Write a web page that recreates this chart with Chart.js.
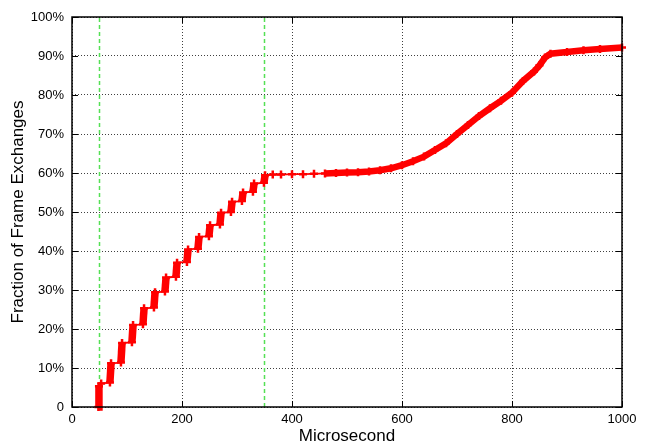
<!DOCTYPE html>
<html>
<head>
<meta charset="utf-8">
<script src="https://cdn.jsdelivr.net/npm/chart.js@4/dist/chart.umd.min.js"></script>
<style>
  html, body { margin: 0; padding: 0; background: #fff; }
  #wrap { width: 646px; height: 445px; }
</style>
</head>
<body>
<div id="wrap"><canvas id="grafico"></canvas></div>
<script>
// CDF (microseconds, percent)
const microsegundos = [
  48, 49, 53,
  69, 71, 89, 91, 109, 111, 129, 131, 149, 151, 169, 171, 189, 191,
  209, 211, 229, 231, 249, 251, 269, 271, 289, 291, 309, 311, 329, 331, 349, 351,
  365, 380, 400, 420, 440, 460, 480, 500, 520, 540, 560, 580, 600,
  620, 640, 660, 680, 700, 720, 740, 760, 780, 800, 820, 840, 850, 860,
  870, 900, 930, 960, 1000
]
const fraccion = [
  0, 5.3, 6.0,
  6.3, 11.2, 11.4, 16.4, 16.6, 21.0, 21.2, 25.3, 25.5, 29.4, 29.6, 33.2, 33.4, 37.0,
  37.2, 40.4, 40.6, 43.6, 43.8, 46.6, 46.8, 49.8, 50.0, 52.6, 52.8, 55.0, 55.2, 57.3, 57.5, 59.4,
  59.6, 59.6, 59.7, 59.7, 59.8, 59.9, 60.0, 60.1, 60.2, 60.4, 60.7, 61.2, 62.0,
  63.0, 64.2, 65.9, 67.6, 70.0, 72.3, 74.6, 76.6, 78.5, 80.6, 83.6, 86.0, 87.6, 89.6,
  90.6, 91.0, 91.5, 91.8, 92.2
]
const lineasVerdes = [50, 350]
const ticksX = [0, 200, 400, 600, 800, 1000]
const ticksY = [0, 10, 20, 30, 40, 50, 60, 70, 80, 90, 100]

const puntos = microsegundos.map((x, i) => ({ x: x, y: fraccion[i] }))

const datasets = [{
  data: puntos,
  borderColor: '#ff0000',
  backgroundColor: '#ff0000',
  pointStyle: 'cross',
  pointRadius: 4,
  pointBorderWidth: 2.5,
  pointBorderColor: '#ff0000',
  borderCapStyle: 'butt',
  borderWidth: 1.5,
  segment: {
    borderWidth: ctx => {
      const dx = Math.abs(ctx.p1.parsed.x - ctx.p0.parsed.x)
      if (dx <= 3) return 7.5
      if (ctx.p0.parsed.x >= 450) return 6.5
      return 1.8
    }
  },
  clip: false
}]

lineasVerdes.forEach(x => {
  datasets.push({
    data: [{ x: x, y: 0 }, { x: x, y: 100 }],
    borderColor: '#55e055',
    borderWidth: 1.5,
    borderDash: [4, 3],
    pointRadius: 0
  })
})

// marco negro y ticks hacia adentro, estilo gnuplot
const marcoGnuplot = {
  id: 'marcoGnuplot',
  afterDraw(chart) {
    const { ctx, chartArea } = chart
    const { left, right, top, bottom } = chartArea
    const sx = chart.scales.x
    const sy = chart.scales.y
    ctx.save()
    ctx.strokeStyle = '#000'
    ctx.lineWidth = 1
    ctx.beginPath()
    ticksX.forEach(v => {
      const px = Math.round(sx.getPixelForValue(v)) + 0.5
      ctx.moveTo(px, bottom); ctx.lineTo(px, bottom - 6)
      ctx.moveTo(px, top); ctx.lineTo(px, top + 6)
    })
    ticksY.forEach(v => {
      const py = Math.round(sy.getPixelForValue(v)) + 0.5
      ctx.moveTo(left, py); ctx.lineTo(left + 6, py)
      ctx.moveTo(right, py); ctx.lineTo(right - 6, py)
    })
    ctx.stroke()
    ctx.lineWidth = 1.5
    ctx.strokeRect(left, top, right - left, bottom - top)
    ctx.restore()
  }
}

const fuente = 'Liberation Sans, Arial, Helvetica, sans-serif'

new Chart(document.getElementById('grafico').getContext('2d'), {
  type: 'line',
  data: { datasets: datasets },
  options: {
    responsive: true,
    maintainAspectRatio: false,
    animation: false,
    layout: { padding: { top: 17, right: 24, left: 0, bottom: 0 } },
    plugins: { legend: { display: false }, tooltip: { enabled: false } },
    scales: {
      x: {
        type: 'linear',
        min: 0,
        max: 1000,
        afterBuildTicks: scale => { scale.ticks = ticksX.map(v => ({ value: v })) },
        afterFit: scale => { scale.height = 38 },
        ticks: {
          color: '#000',
          padding: 5,
          font: { family: fuente, size: 13 },
          callback: v => String(v)
        },
        grid: { color: 'rgba(0,0,0,0.75)', drawTicks: false, lineWidth: 1 },
        border: { display: false, dash: [1, 2] },
        title: {
          display: true,
          text: 'Microsecond',
          color: '#000',
          font: { family: fuente, size: 17, lineHeight: 1 },
          padding: { top: 0, bottom: 0 }
        }
      },
      y: {
        min: 0,
        max: 100,
        afterBuildTicks: scale => { scale.ticks = ticksY.map(v => ({ value: v })) },
        afterFit: scale => { scale.width = 72 },
        ticks: {
          color: '#000',
          padding: 8,
          font: { family: fuente, size: 13 },
          callback: v => v === 0 ? '0' : v + '%'
        },
        grid: { color: 'rgba(0,0,0,0.75)', drawTicks: false, lineWidth: 1 },
        border: { display: false, dash: [1, 2] },
        title: {
          display: true,
          text: 'Fraction of Frame Exchanges',
          color: '#000',
          font: { family: fuente, size: 17, lineHeight: 1 },
          padding: { top: 10, bottom: 0 }
        }
      }
    }
  },
  plugins: [marcoGnuplot]
})
</script>
</body>
</html>
